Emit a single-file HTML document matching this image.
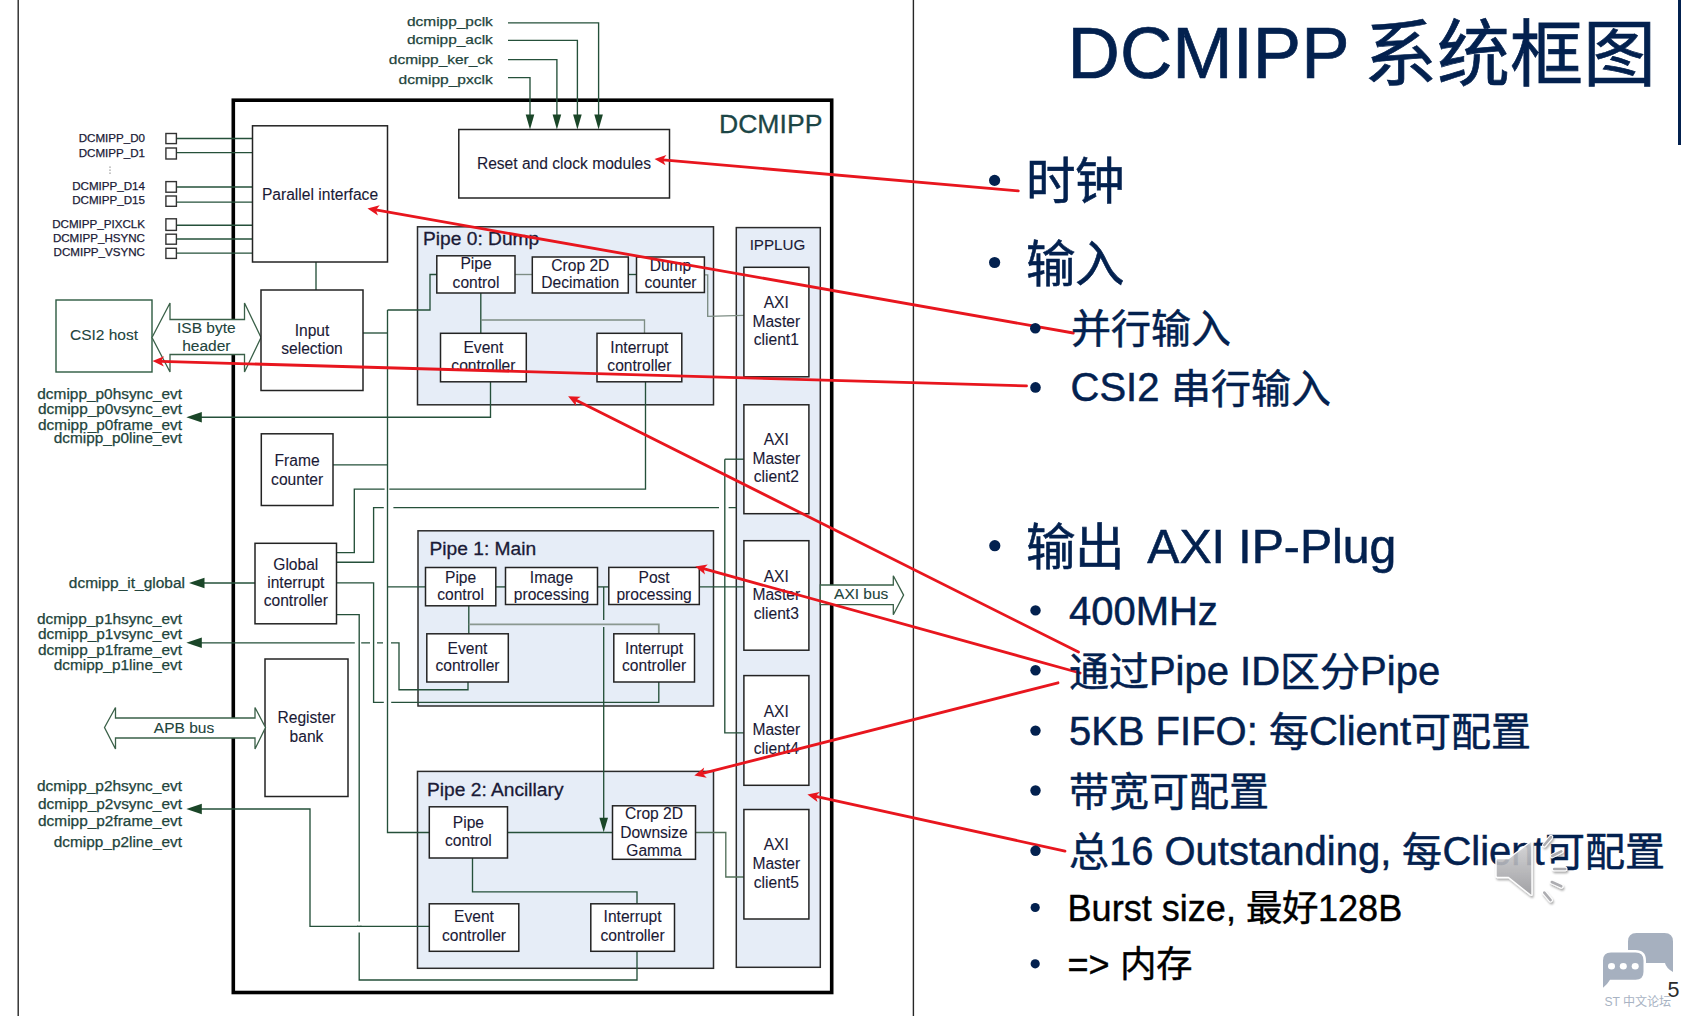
<!DOCTYPE html><html lang="zh-CN"><head><meta charset="utf-8"><title>DCMIPP</title><style>html,body{margin:0;padding:0;background:#fff;overflow:hidden;}svg{display:block;font-family:"Liberation Sans",sans-serif;}</style></head><body>
<svg width="1681" height="1016" viewBox="0 0 1681 1016">
<rect x="0" y="0" width="1681" height="1016" fill="#fff"/>
<polyline points="18.2,0 18.2,1016" fill="none" stroke="#262626" stroke-width="1.4"/>
<polyline points="913.4,0 913.4,1016" fill="none" stroke="#262626" stroke-width="1.4"/>
<rect x="1678" y="0" width="3" height="145" fill="#03214f"/>
<rect x="233.3" y="100.2" width="598.4" height="892.3" fill="none" stroke="#000" stroke-width="3.6"/>
<text x="822.4" y="132.9" font-size="26.6" text-anchor="end" fill="#1c4646" stroke="#1c4646" stroke-width="0.3">DCMIPP</text>
<rect x="417.5" y="226.8" width="296.0" height="178.0" fill="#e6edf7" stroke="#2b2b2b" stroke-width="1.5"/>
<rect x="418" y="530.8" width="295.5" height="175.2" fill="#e6edf7" stroke="#2b2b2b" stroke-width="1.5"/>
<rect x="417.5" y="771.4" width="296.0" height="196.9" fill="#e6edf7" stroke="#2b2b2b" stroke-width="1.5"/>
<rect x="736.3" y="227.6" width="84.0" height="739.7" fill="#e6edf7" stroke="#2b2b2b" stroke-width="1.5"/>
<text x="492.8" y="26.1" font-size="13.6" text-anchor="end" fill="#22443c" stroke="#22443c" stroke-width="0.25" textLength="85.8" lengthAdjust="spacingAndGlyphs">dcmipp_pclk</text>
<polyline points="508,22.9 598.6,22.9 598.6,115" fill="none" stroke="#25503a" stroke-width="1.35"/>
<polygon points="598.6,129.5 594.3,114.5 602.9,114.5" fill="#1a4628" stroke="none" stroke-width="1"/>
<text x="492.8" y="43.9" font-size="13.6" text-anchor="end" fill="#22443c" stroke="#22443c" stroke-width="0.25" textLength="85.8" lengthAdjust="spacingAndGlyphs">dcmipp_aclk</text>
<polyline points="508,40.4 577.4,40.4 577.4,115" fill="none" stroke="#25503a" stroke-width="1.35"/>
<polygon points="577.4,129.5 573.1,114.5 581.7,114.5" fill="#1a4628" stroke="none" stroke-width="1"/>
<text x="492.8" y="63.6" font-size="13.6" text-anchor="end" fill="#22443c" stroke="#22443c" stroke-width="0.25" textLength="104" lengthAdjust="spacingAndGlyphs">dcmipp_ker_ck</text>
<polyline points="508,59.6 556.9,59.6 556.9,115" fill="none" stroke="#25503a" stroke-width="1.35"/>
<polygon points="556.9,129.5 552.6,114.5 561.2,114.5" fill="#1a4628" stroke="none" stroke-width="1"/>
<text x="492.8" y="84" font-size="13.6" text-anchor="end" fill="#22443c" stroke="#22443c" stroke-width="0.25" textLength="94.2" lengthAdjust="spacingAndGlyphs">dcmipp_pxclk</text>
<polyline points="508,77.6 530,77.6 530,115" fill="none" stroke="#25503a" stroke-width="1.35"/>
<polygon points="530,129.5 525.7,114.5 534.3,114.5" fill="#1a4628" stroke="none" stroke-width="1"/>
<text x="145" y="141.8" font-size="11.6" text-anchor="end" fill="#1a1a36" stroke="#1a1a36" stroke-width="0.25">DCMIPP_D0</text>
<polyline points="176.4,138.5 252.5,138.5" fill="none" stroke="#25503a" stroke-width="1.35"/>
<rect x="165.9" y="133.5" width="10.5" height="10.1" fill="#fff" stroke="#333" stroke-width="1.4"/>
<text x="145" y="157" font-size="11.6" text-anchor="end" fill="#1a1a36" stroke="#1a1a36" stroke-width="0.25">DCMIPP_D1</text>
<polyline points="176.4,152.6 252.5,152.6" fill="none" stroke="#25503a" stroke-width="1.35"/>
<rect x="165.9" y="148" width="10.5" height="11" fill="#fff" stroke="#333" stroke-width="1.4"/>
<text x="145" y="189.7" font-size="11.6" text-anchor="end" fill="#1a1a36" stroke="#1a1a36" stroke-width="0.25">DCMIPP_D14</text>
<polyline points="176.4,187 252.5,187" fill="none" stroke="#25503a" stroke-width="1.35"/>
<rect x="165.9" y="181.6" width="10.5" height="10.6" fill="#fff" stroke="#333" stroke-width="1.4"/>
<text x="145" y="204.2" font-size="11.6" text-anchor="end" fill="#1a1a36" stroke="#1a1a36" stroke-width="0.25">DCMIPP_D15</text>
<polyline points="176.4,202.1 252.5,202.1" fill="none" stroke="#25503a" stroke-width="1.35"/>
<rect x="165.9" y="196" width="10.5" height="10.3" fill="#fff" stroke="#333" stroke-width="1.4"/>
<text x="145" y="228" font-size="11.6" text-anchor="end" fill="#1a1a36" stroke="#1a1a36" stroke-width="0.25">DCMIPP_PIXCLK</text>
<polyline points="176.4,225.2 252.5,225.2" fill="none" stroke="#25503a" stroke-width="1.35"/>
<rect x="165.9" y="218.8" width="10.5" height="11.6" fill="#fff" stroke="#333" stroke-width="1.4"/>
<text x="145" y="242.4" font-size="11.6" text-anchor="end" fill="#1a1a36" stroke="#1a1a36" stroke-width="0.25">DCMIPP_HSYNC</text>
<polyline points="176.4,239 252.5,239" fill="none" stroke="#25503a" stroke-width="1.35"/>
<rect x="165.9" y="234.2" width="10.5" height="10.0" fill="#fff" stroke="#333" stroke-width="1.4"/>
<text x="145" y="256.3" font-size="11.6" text-anchor="end" fill="#1a1a36" stroke="#1a1a36" stroke-width="0.25">DCMIPP_VSYNC</text>
<polyline points="176.4,253.1 252.5,253.1" fill="none" stroke="#25503a" stroke-width="1.35"/>
<rect x="165.9" y="248.3" width="10.5" height="10.1" fill="#fff" stroke="#333" stroke-width="1.4"/>
<rect x="109.5" y="166.5" width="1" height="1.3" fill="#777"/>
<rect x="109.5" y="169.5" width="1" height="1.3" fill="#777"/>
<rect x="109.5" y="172.5" width="1" height="1.3" fill="#777"/>
<polyline points="316,262 316,290" fill="none" stroke="#25503a" stroke-width="1.35"/>
<polyline points="363,333 387.5,333" fill="none" stroke="#25503a" stroke-width="1.35"/>
<polyline points="333,464.8 387.5,464.8" fill="none" stroke="#25503a" stroke-width="1.35"/>
<polyline points="336.5,552.6 354.3,552.6 354.3,489.1 645.5,489.1 645.5,381.8" fill="none" stroke="#25503a" stroke-width="1.35"/>
<polyline points="336.5,562.2 373.6,562.2 373.6,507.6 736.3,507.6" fill="none" stroke="#25503a" stroke-width="1.35"/>
<polyline points="336.5,582.9 373.6,582.9 373.6,702.4 658.8,702.4 658.8,682" fill="none" stroke="#25503a" stroke-width="1.35"/>
<polyline points="336.5,614.6 359.2,614.6 359.2,980 637,980 637,951.3" fill="none" stroke="#25503a" stroke-width="1.35"/>
<polyline points="204,583 255,583" fill="none" stroke="#25503a" stroke-width="1.35"/>
<polygon points="189,583 204.5,577.8 204.5,588.2" fill="#1a4628" stroke="none" stroke-width="1"/>
<polyline points="201,417.2 490.5,417.2 490.5,381.8" fill="none" stroke="#25503a" stroke-width="1.35"/>
<polygon points="186.3,417.2 201.8,412.0 201.8,422.4" fill="#1a4628" stroke="none" stroke-width="1"/>
<polyline points="201,642.8 399,642.8 399,689.7 468,689.7 468,682" fill="none" stroke="#25503a" stroke-width="1.35"/>
<polygon points="186.3,642.8 201.8,637.6 201.8,648.0" fill="#1a4628" stroke="none" stroke-width="1"/>
<polyline points="201,809 310,809 310,926.3 429.3,926.3" fill="none" stroke="#25503a" stroke-width="1.35"/>
<polygon points="186.3,809 201.8,803.8 201.8,814.2" fill="#1a4628" stroke="none" stroke-width="1"/>
<polyline points="387.5,310 387.5,832.5 429.3,832.5" fill="none" stroke="#25503a" stroke-width="1.35"/>
<polyline points="387.5,310 430,310 430,274.5 436.8,274.5" fill="none" stroke="#25503a" stroke-width="1.35"/>
<polyline points="387.5,586.9 425.5,586.9" fill="none" stroke="#25503a" stroke-width="1.35"/>
<polyline points="515,274.5 532.3,274.5" fill="none" stroke="#7d8d84" stroke-width="1.35"/>
<polyline points="628.3,274.5 636.5,274.5" fill="none" stroke="#25503a" stroke-width="1.35"/>
<polyline points="704.5,274.8 707.7,274.8 707.7,316.3 743.9,315.4" fill="none" stroke="#7d8d84" stroke-width="1.35"/>
<polyline points="480.8,293 480.8,333.3" fill="none" stroke="#25503a" stroke-width="1.35"/>
<polyline points="480.8,320 644.5,320 644.5,333.3" fill="none" stroke="#7d8d84" stroke-width="1.35"/>
<polyline points="495.8,586.9 505.5,586.9" fill="none" stroke="#25503a" stroke-width="1.35"/>
<polyline points="597.5,586.9 608.8,586.9" fill="none" stroke="#25503a" stroke-width="1.35"/>
<polyline points="699.5,586.9 743.9,586.9" fill="none" stroke="#25503a" stroke-width="1.35"/>
<polyline points="468.8,605.8 468.8,633.8" fill="none" stroke="#25503a" stroke-width="1.35"/>
<polyline points="468.8,624.3 658.8,624.3 658.8,633.8" fill="none" stroke="#8a9890" stroke-width="1.8"/>
<polyline points="603.7,586.9 603.7,620" fill="none" stroke="#25503a" stroke-width="1.35"/>
<polyline points="603.7,627.1 603.7,818" fill="none" stroke="#25503a" stroke-width="1.35"/>
<polygon points="603.7,832.3 599.4,817.8 608.0,817.8" fill="#1a4628" stroke="none" stroke-width="1"/>
<polyline points="507.5,832.5 612.5,832.5" fill="none" stroke="#25503a" stroke-width="1.35"/>
<polyline points="695.5,832.5 725.8,832.5 725.8,877 743.9,877" fill="none" stroke="#52705a" stroke-width="1.35"/>
<polyline points="472.5,858 472.5,891.8 637,891.8 637,903.8" fill="none" stroke="#25503a" stroke-width="1.35"/>
<polyline points="724.8,459.2 724.8,732.8 743.9,732.8" fill="none" stroke="#25503a" stroke-width="1.35"/>
<polyline points="724.8,459.2 743.9,459.2" fill="none" stroke="#25503a" stroke-width="1.35"/>
<rect x="384.6" y="486" width="4.7" height="6" fill="#fff"/>
<rect x="383.8" y="505" width="9.6" height="5" fill="#fff"/>
<rect x="719" y="505" width="9.6" height="5" fill="#fff"/>
<rect x="383.8" y="700" width="7.4" height="5" fill="#fff"/>
<rect x="354.8" y="640" width="6.4" height="6" fill="#fff"/>
<rect x="370" y="640" width="7" height="6" fill="#fff"/>
<rect x="383" y="640" width="8" height="6" fill="#fff"/>
<rect x="357.9" y="921.5" width="2.6" height="11.0" fill="#fff"/>
<line x1="387.5" y1="486" x2="387.5" y2="492" stroke="#25503a" stroke-width="1.35"/>
<line x1="387.5" y1="505" x2="387.5" y2="510" stroke="#25503a" stroke-width="1.35"/>
<line x1="724.8" y1="505" x2="724.8" y2="510" stroke="#25503a" stroke-width="1.35"/>
<line x1="387.5" y1="700" x2="387.5" y2="705" stroke="#25503a" stroke-width="1.35"/>
<line x1="359.2" y1="640" x2="359.2" y2="646" stroke="#25503a" stroke-width="1.35"/>
<line x1="373.6" y1="640" x2="373.6" y2="646" stroke="#25503a" stroke-width="1.35"/>
<line x1="387.5" y1="640" x2="387.5" y2="646" stroke="#25503a" stroke-width="1.35"/>
<line x1="357" y1="926.3" x2="361.5" y2="926.3" stroke="#25503a" stroke-width="1.35"/>
<rect x="252.5" y="125.8" width="135.0" height="136.2" fill="#fff" stroke="#232323" stroke-width="1.5"/>
<rect x="458.8" y="129.5" width="210.7" height="68.5" fill="#fff" stroke="#232323" stroke-width="1.5"/>
<rect x="56" y="300" width="96" height="72" fill="#fff" stroke="#2d5a40" stroke-width="1.4"/>
<polygon points="152,337.5 170,303 170,319.5 244.5,319.5 244.5,303 261,337.5 244.5,372 244.5,354.5 170,354.5 170,372" fill="#fff" stroke="#3a6048" stroke-width="1.3"/>
<rect x="261" y="290" width="102" height="100.5" fill="#fff" stroke="#232323" stroke-width="1.5"/>
<rect x="261.3" y="433.8" width="71.7" height="71.7" fill="#fff" stroke="#232323" stroke-width="1.5"/>
<rect x="255" y="543.3" width="81.5" height="80.5" fill="#fff" stroke="#232323" stroke-width="1.5"/>
<rect x="265" y="659" width="83" height="137.5" fill="#fff" stroke="#232323" stroke-width="1.5"/>
<polygon points="104.5,727.5 115.5,707.5 115.5,718 255,718 255,707.5 265.5,727.5 255,749 255,738 115.5,738 115.5,749" fill="#fff" stroke="#3a6048" stroke-width="1.3"/>
<rect x="436.8" y="255.8" width="78.2" height="37.2" fill="#fff" stroke="#232323" stroke-width="1.5"/>
<rect x="532.3" y="257" width="96.0" height="36" fill="#fff" stroke="#232323" stroke-width="1.5"/>
<rect x="636.5" y="257" width="67.9" height="35.5" fill="#fff" stroke="#232323" stroke-width="1.5"/>
<rect x="440.5" y="333.3" width="85.8" height="48.5" fill="#fff" stroke="#232323" stroke-width="1.5"/>
<rect x="597" y="333.3" width="84.8" height="48.5" fill="#fff" stroke="#232323" stroke-width="1.5"/>
<rect x="425.5" y="567.5" width="70.3" height="38.3" fill="#fff" stroke="#232323" stroke-width="1.5"/>
<rect x="505.5" y="567.5" width="92.0" height="37.0" fill="#fff" stroke="#232323" stroke-width="1.5"/>
<rect x="608.8" y="567.4" width="90.5" height="37.1" fill="#fff" stroke="#232323" stroke-width="1.5"/>
<rect x="426.8" y="633.8" width="81.5" height="48.2" fill="#fff" stroke="#232323" stroke-width="1.5"/>
<rect x="613.8" y="633.8" width="80.7" height="48.2" fill="#fff" stroke="#232323" stroke-width="1.5"/>
<rect x="429.3" y="806.8" width="78.2" height="51.2" fill="#fff" stroke="#232323" stroke-width="1.5"/>
<rect x="612.5" y="805.8" width="83.0" height="53.5" fill="#fff" stroke="#232323" stroke-width="1.5"/>
<rect x="429.3" y="903.8" width="89.5" height="47.5" fill="#fff" stroke="#232323" stroke-width="1.5"/>
<rect x="590.8" y="903.8" width="83.7" height="47.5" fill="#fff" stroke="#232323" stroke-width="1.5"/>
<rect x="743.9" y="267.3" width="65.0" height="109.5" fill="#fff" stroke="#232323" stroke-width="1.5"/>
<rect x="743.9" y="404.8" width="65.0" height="108.9" fill="#fff" stroke="#232323" stroke-width="1.5"/>
<rect x="743.9" y="540.7" width="65.0" height="109.5" fill="#fff" stroke="#232323" stroke-width="1.5"/>
<rect x="743.9" y="675.6" width="65.0" height="109.7" fill="#fff" stroke="#232323" stroke-width="1.5"/>
<rect x="743.9" y="809.5" width="65.0" height="109.5" fill="#fff" stroke="#232323" stroke-width="1.5"/>
<polygon points="820.3,585 893.3,585 893.3,575.8 903.6,595.1 893.3,614.8 893.3,604.7 820.3,604.7" fill="#fff" stroke="#3a6048" stroke-width="1.3"/>
<text x="320" y="199.5" font-size="15.6" text-anchor="middle" fill="#1a1a36" stroke="#1a1a36" stroke-width="0.1">Parallel interface</text>
<text x="564" y="168.7" font-size="15.6" text-anchor="middle" fill="#1a1a36" stroke="#1a1a36" stroke-width="0.1">Reset and clock modules</text>
<text x="104" y="340" font-size="15.5" text-anchor="middle" fill="#22443c" stroke="#22443c" stroke-width="0.1">CSI2 host</text>
<text x="206.3" y="332.5" font-size="15.5" text-anchor="middle" fill="#22443c" stroke="#22443c" stroke-width="0.1">ISB byte</text>
<text x="206.3" y="351.3" font-size="15.5" text-anchor="middle" fill="#22443c" stroke="#22443c" stroke-width="0.1">header</text>
<text x="312" y="336.3" font-size="15.6" text-anchor="middle" fill="#1a1a36" stroke="#1a1a36" stroke-width="0.1">Input</text>
<text x="312" y="353.8" font-size="15.6" text-anchor="middle" fill="#1a1a36" stroke="#1a1a36" stroke-width="0.1">selection</text>
<text x="297.1" y="465.5" font-size="15.6" text-anchor="middle" fill="#1a1a36" stroke="#1a1a36" stroke-width="0.1">Frame</text>
<text x="297.1" y="484.5" font-size="15.6" text-anchor="middle" fill="#1a1a36" stroke="#1a1a36" stroke-width="0.1">counter</text>
<text x="295.8" y="569.5" font-size="15.6" text-anchor="middle" fill="#1a1a36" stroke="#1a1a36" stroke-width="0.1">Global</text>
<text x="295.8" y="588" font-size="15.6" text-anchor="middle" fill="#1a1a36" stroke="#1a1a36" stroke-width="0.1">interrupt</text>
<text x="295.8" y="605.5" font-size="15.6" text-anchor="middle" fill="#1a1a36" stroke="#1a1a36" stroke-width="0.1">controller</text>
<text x="185" y="588" font-size="14" text-anchor="end" fill="#22443c" stroke="#22443c" stroke-width="0.25" textLength="116.2" lengthAdjust="spacingAndGlyphs">dcmipp_it_global</text>
<text x="182" y="398.7" font-size="14" text-anchor="end" fill="#22443c" stroke="#22443c" stroke-width="0.25" textLength="144.7" lengthAdjust="spacingAndGlyphs">dcmipp_p0hsync_evt</text>
<text x="182" y="414" font-size="14" text-anchor="end" fill="#22443c" stroke="#22443c" stroke-width="0.25" textLength="144" lengthAdjust="spacingAndGlyphs">dcmipp_p0vsync_evt</text>
<text x="182" y="430.3" font-size="14" text-anchor="end" fill="#22443c" stroke="#22443c" stroke-width="0.25" textLength="144" lengthAdjust="spacingAndGlyphs">dcmipp_p0frame_evt</text>
<text x="182" y="443.2" font-size="14" text-anchor="end" fill="#22443c" stroke="#22443c" stroke-width="0.25" textLength="128.2" lengthAdjust="spacingAndGlyphs">dcmipp_p0line_evt</text>
<text x="182" y="624.3" font-size="14" text-anchor="end" fill="#22443c" stroke="#22443c" stroke-width="0.25" textLength="145" lengthAdjust="spacingAndGlyphs">dcmipp_p1hsync_evt</text>
<text x="182" y="638.8" font-size="14" text-anchor="end" fill="#22443c" stroke="#22443c" stroke-width="0.25" textLength="144" lengthAdjust="spacingAndGlyphs">dcmipp_p1vsync_evt</text>
<text x="182" y="655" font-size="14" text-anchor="end" fill="#22443c" stroke="#22443c" stroke-width="0.25" textLength="144" lengthAdjust="spacingAndGlyphs">dcmipp_p1frame_evt</text>
<text x="182" y="669.5" font-size="14" text-anchor="end" fill="#22443c" stroke="#22443c" stroke-width="0.25" textLength="128.2" lengthAdjust="spacingAndGlyphs">dcmipp_p1line_evt</text>
<text x="182" y="790.5" font-size="14" text-anchor="end" fill="#22443c" stroke="#22443c" stroke-width="0.25" textLength="145" lengthAdjust="spacingAndGlyphs">dcmipp_p2hsync_evt</text>
<text x="182" y="808.8" font-size="14" text-anchor="end" fill="#22443c" stroke="#22443c" stroke-width="0.25" textLength="144" lengthAdjust="spacingAndGlyphs">dcmipp_p2vsync_evt</text>
<text x="182" y="826.3" font-size="14" text-anchor="end" fill="#22443c" stroke="#22443c" stroke-width="0.25" textLength="144" lengthAdjust="spacingAndGlyphs">dcmipp_p2frame_evt</text>
<text x="182" y="846.8" font-size="14" text-anchor="end" fill="#22443c" stroke="#22443c" stroke-width="0.25" textLength="128.2" lengthAdjust="spacingAndGlyphs">dcmipp_p2line_evt</text>
<text x="306.5" y="723.3" font-size="15.6" text-anchor="middle" fill="#1a1a36" stroke="#1a1a36" stroke-width="0.1">Register</text>
<text x="306.5" y="742" font-size="15.6" text-anchor="middle" fill="#1a1a36" stroke="#1a1a36" stroke-width="0.1">bank</text>
<text x="184" y="732.5" font-size="15.5" text-anchor="middle" fill="#22443c" stroke="#22443c" stroke-width="0.1">APB bus</text>
<text x="423" y="245" font-size="19.2" text-anchor="start" fill="#1a1a36" stroke="#1a1a36" stroke-width="0.3">Pipe 0: Dump</text>
<text x="476" y="269.3" font-size="15.6" text-anchor="middle" fill="#1a1a36" stroke="#1a1a36" stroke-width="0.1">Pipe</text>
<text x="476" y="288" font-size="15.6" text-anchor="middle" fill="#1a1a36" stroke="#1a1a36" stroke-width="0.1">control</text>
<text x="580.3" y="270.8" font-size="15.6" text-anchor="middle" fill="#1a1a36" stroke="#1a1a36" stroke-width="0.1">Crop 2D</text>
<text x="580.3" y="288" font-size="15.6" text-anchor="middle" fill="#1a1a36" stroke="#1a1a36" stroke-width="0.1">Decimation</text>
<text x="670.5" y="270.8" font-size="15.6" text-anchor="middle" fill="#1a1a36" stroke="#1a1a36" stroke-width="0.1">Dump</text>
<text x="670.5" y="288" font-size="15.6" text-anchor="middle" fill="#1a1a36" stroke="#1a1a36" stroke-width="0.1">counter</text>
<text x="483.4" y="353.3" font-size="15.6" text-anchor="middle" fill="#1a1a36" stroke="#1a1a36" stroke-width="0.1">Event</text>
<text x="483.4" y="371.3" font-size="15.6" text-anchor="middle" fill="#1a1a36" stroke="#1a1a36" stroke-width="0.1">controller</text>
<text x="639.4" y="353.3" font-size="15.6" text-anchor="middle" fill="#1a1a36" stroke="#1a1a36" stroke-width="0.1">Interrupt</text>
<text x="639.4" y="371.3" font-size="15.6" text-anchor="middle" fill="#1a1a36" stroke="#1a1a36" stroke-width="0.1">controller</text>
<text x="429.5" y="555" font-size="19.2" text-anchor="start" fill="#1a1a36" stroke="#1a1a36" stroke-width="0.3">Pipe 1: Main</text>
<text x="460.6" y="582.5" font-size="15.6" text-anchor="middle" fill="#1a1a36" stroke="#1a1a36" stroke-width="0.1">Pipe</text>
<text x="460.6" y="600" font-size="15.6" text-anchor="middle" fill="#1a1a36" stroke="#1a1a36" stroke-width="0.1">control</text>
<text x="551.5" y="582.5" font-size="15.6" text-anchor="middle" fill="#1a1a36" stroke="#1a1a36" stroke-width="0.1">Image</text>
<text x="551.5" y="600" font-size="15.6" text-anchor="middle" fill="#1a1a36" stroke="#1a1a36" stroke-width="0.1">processing</text>
<text x="654.1" y="582.5" font-size="15.6" text-anchor="middle" fill="#1a1a36" stroke="#1a1a36" stroke-width="0.1">Post</text>
<text x="654.1" y="600" font-size="15.6" text-anchor="middle" fill="#1a1a36" stroke="#1a1a36" stroke-width="0.1">processing</text>
<text x="467.5" y="653.8" font-size="15.6" text-anchor="middle" fill="#1a1a36" stroke="#1a1a36" stroke-width="0.1">Event</text>
<text x="467.5" y="671.3" font-size="15.6" text-anchor="middle" fill="#1a1a36" stroke="#1a1a36" stroke-width="0.1">controller</text>
<text x="654.1" y="653.8" font-size="15.6" text-anchor="middle" fill="#1a1a36" stroke="#1a1a36" stroke-width="0.1">Interrupt</text>
<text x="654.1" y="671.3" font-size="15.6" text-anchor="middle" fill="#1a1a36" stroke="#1a1a36" stroke-width="0.1">controller</text>
<text x="427" y="796.3" font-size="19.2" text-anchor="start" fill="#1a1a36" stroke="#1a1a36" stroke-width="0.3">Pipe 2: Ancillary</text>
<text x="468.4" y="828" font-size="15.6" text-anchor="middle" fill="#1a1a36" stroke="#1a1a36" stroke-width="0.1">Pipe</text>
<text x="468.4" y="845.5" font-size="15.6" text-anchor="middle" fill="#1a1a36" stroke="#1a1a36" stroke-width="0.1">control</text>
<text x="654" y="819.3" font-size="15.6" text-anchor="middle" fill="#1a1a36" stroke="#1a1a36" stroke-width="0.1">Crop 2D</text>
<text x="654" y="838" font-size="15.6" text-anchor="middle" fill="#1a1a36" stroke="#1a1a36" stroke-width="0.1">Downsize</text>
<text x="654" y="855.5" font-size="15.6" text-anchor="middle" fill="#1a1a36" stroke="#1a1a36" stroke-width="0.1">Gamma</text>
<text x="474" y="922" font-size="15.6" text-anchor="middle" fill="#1a1a36" stroke="#1a1a36" stroke-width="0.1">Event</text>
<text x="474" y="940.8" font-size="15.6" text-anchor="middle" fill="#1a1a36" stroke="#1a1a36" stroke-width="0.1">controller</text>
<text x="632.6" y="922" font-size="15.6" text-anchor="middle" fill="#1a1a36" stroke="#1a1a36" stroke-width="0.1">Interrupt</text>
<text x="632.6" y="940.8" font-size="15.6" text-anchor="middle" fill="#1a1a36" stroke="#1a1a36" stroke-width="0.1">controller</text>
<text x="777.5" y="250" font-size="15.2" text-anchor="middle" fill="#1a1a36" stroke="#1a1a36" stroke-width="0.1">IPPLUG</text>
<text x="776.3" y="308.1" font-size="15.6" text-anchor="middle" fill="#1a1a36" stroke="#1a1a36" stroke-width="0.1">AXI</text>
<text x="776.3" y="326.8" font-size="15.6" text-anchor="middle" fill="#1a1a36" stroke="#1a1a36" stroke-width="0.1">Master</text>
<text x="776.3" y="345.2" font-size="15.6" text-anchor="middle" fill="#1a1a36" stroke="#1a1a36" stroke-width="0.1">client1</text>
<text x="776.3" y="445.2" font-size="15.6" text-anchor="middle" fill="#1a1a36" stroke="#1a1a36" stroke-width="0.1">AXI</text>
<text x="776.3" y="463.9" font-size="15.6" text-anchor="middle" fill="#1a1a36" stroke="#1a1a36" stroke-width="0.1">Master</text>
<text x="776.3" y="482.4" font-size="15.6" text-anchor="middle" fill="#1a1a36" stroke="#1a1a36" stroke-width="0.1">client2</text>
<text x="776.3" y="581.5" font-size="15.6" text-anchor="middle" fill="#1a1a36" stroke="#1a1a36" stroke-width="0.1">AXI</text>
<text x="776.3" y="600.2" font-size="15.6" text-anchor="middle" fill="#1a1a36" stroke="#1a1a36" stroke-width="0.1">Master</text>
<text x="776.3" y="618.7" font-size="15.6" text-anchor="middle" fill="#1a1a36" stroke="#1a1a36" stroke-width="0.1">client3</text>
<text x="776.3" y="716.5" font-size="15.6" text-anchor="middle" fill="#1a1a36" stroke="#1a1a36" stroke-width="0.1">AXI</text>
<text x="776.3" y="735.2" font-size="15.6" text-anchor="middle" fill="#1a1a36" stroke="#1a1a36" stroke-width="0.1">Master</text>
<text x="776.3" y="753.7" font-size="15.6" text-anchor="middle" fill="#1a1a36" stroke="#1a1a36" stroke-width="0.1">client4</text>
<text x="776.3" y="850.2" font-size="15.6" text-anchor="middle" fill="#1a1a36" stroke="#1a1a36" stroke-width="0.1">AXI</text>
<text x="776.3" y="869.0" font-size="15.6" text-anchor="middle" fill="#1a1a36" stroke="#1a1a36" stroke-width="0.1">Master</text>
<text x="776.3" y="887.5" font-size="15.6" text-anchor="middle" fill="#1a1a36" stroke="#1a1a36" stroke-width="0.1">client5</text>
<text x="861.2" y="599.2" font-size="15.5" text-anchor="middle" fill="#22443c" stroke="#22443c" stroke-width="0.1">AXI bus</text>
<line x1="1018.3" y1="190.9" x2="662.97" y2="159.84" stroke="#e8161e" stroke-width="2.8" stroke-linecap="round"/>
<polygon points="654.5,159.1 665.5,165.28 662.97,159.84 666.41,154.92" fill="#e8161e" stroke="none" stroke-width="1"/>
<line x1="1073.3" y1="333" x2="375.87" y2="209.88" stroke="#e8161e" stroke-width="2.8" stroke-linecap="round"/>
<polygon points="367.5,208.4 377.92,215.52 375.87,209.88 379.73,205.28" fill="#e8161e" stroke="none" stroke-width="1"/>
<line x1="1026.5" y1="385.9" x2="161.0" y2="361.34" stroke="#e8161e" stroke-width="2.8" stroke-linecap="round"/>
<polygon points="152.5,361.1 163.85,366.62 161.0,361.34 164.14,356.23" fill="#e8161e" stroke="none" stroke-width="1"/>
<line x1="1078.5" y1="652.1" x2="575.7" y2="400.01" stroke="#e8161e" stroke-width="2.8" stroke-linecap="round"/>
<polygon points="568.1,396.2 576.05,406.0 575.7,400.01 580.71,396.71" fill="#e8161e" stroke="none" stroke-width="1"/>
<line x1="1080.2" y1="673" x2="703.49" y2="568.67" stroke="#e8161e" stroke-width="2.8" stroke-linecap="round"/>
<polygon points="695.3,566.4 704.99,574.48 703.49,568.67 707.77,564.46" fill="#e8161e" stroke="none" stroke-width="1"/>
<line x1="1058" y1="682.8" x2="702.54" y2="773.4" stroke="#e8161e" stroke-width="2.8" stroke-linecap="round"/>
<polygon points="694.3,775.5 706.73,777.7 702.54,773.4 704.16,767.62" fill="#e8161e" stroke="none" stroke-width="1"/>
<line x1="1065" y1="851.1" x2="815.7" y2="796.32" stroke="#e8161e" stroke-width="2.8" stroke-linecap="round"/>
<polygon points="807.4,794.5 817.52,802.05 815.7,796.32 819.75,791.89" fill="#e8161e" stroke="none" stroke-width="1"/>
<text x="1067.6" y="78" fill="#03214f" stroke="#03214f" stroke-width="0.7"><tspan font-size="72.5">DCMIPP </tspan><tspan font-size="73" dx="-4.5" dy="1.5">系统框图</tspan></text>
<circle cx="994.6" cy="180.4" r="5.6" fill="#03214f"/>
<text x="1025.5" y="198.9" fill="#03214f" stroke="#03214f" stroke-width="0.6"><tspan font-size="49.5">时钟</tspan></text>
<circle cx="994.6" cy="262.5" r="5.6" fill="#03214f"/>
<text x="1025.5" y="282" fill="#03214f" stroke="#03214f" stroke-width="0.6"><tspan font-size="49.5">输入</tspan></text>
<circle cx="1035.3" cy="328.2" r="5.3" fill="#03214f"/>
<text x="1070.5" y="342.8" fill="#03214f" stroke="#03214f" stroke-width="0.5"><tspan font-size="40.0">并行输入</tspan></text>
<circle cx="1035.5" cy="387.4" r="5.3" fill="#03214f"/>
<text x="1070.5" y="401.3" fill="#03214f" stroke="#03214f" stroke-width="0.5"><tspan font-size="40.0">CSI2 </tspan><tspan font-size="40.0" dy="1.5">串行输入</tspan></text>
<circle cx="994.8" cy="545.7" r="5.6" fill="#03214f"/>
<text x="1025.5" y="562.8" fill="#03214f" stroke="#03214f" stroke-width="0.6" xml:space="preserve"><tspan font-size="49.5" dy="2">输出</tspan><tspan font-size="48.2" dy="-2" dx="-3">  AXI IP-Plug</tspan></text>
<circle cx="1035.5" cy="610.4" r="5.2" fill="#03214f"/>
<text x="1068.9" y="624.9" fill="#03214f" stroke="#03214f" stroke-width="0.5" xml:space="preserve"><tspan font-size="40.0">400MHz</tspan></text>
<circle cx="1035.5" cy="670.3" r="5.2" fill="#03214f"/>
<text x="1068.9" y="684.8" fill="#03214f" stroke="#03214f" stroke-width="0.5" xml:space="preserve"><tspan font-size="40.0" dy="1.0">通过</tspan><tspan font-size="40.0" dy="-1.0">Pipe ID</tspan><tspan font-size="40.0" dy="1.0">区分</tspan><tspan font-size="40.0" dy="-1.0">Pipe</tspan></text>
<circle cx="1035.5" cy="730.6" r="5.2" fill="#03214f"/>
<text x="1068.9" y="745.1" fill="#03214f" stroke="#03214f" stroke-width="0.5" xml:space="preserve"><tspan font-size="40.0">5KB FIFO: </tspan><tspan font-size="40.0" dy="1.0">每</tspan><tspan font-size="40.0" dy="-1.0">Client</tspan><tspan font-size="40.0" dy="1.0">可配置</tspan></text>
<circle cx="1035.5" cy="790.5" r="5.2" fill="#03214f"/>
<text x="1068.9" y="805.0" fill="#03214f" stroke="#03214f" stroke-width="0.5" xml:space="preserve"><tspan font-size="40.0" dy="1.0">带宽可配置</tspan></text>
<circle cx="1035.5" cy="850.7" r="5.2" fill="#03214f"/>
<text x="1068.9" y="865.2" fill="#03214f" stroke="#03214f" stroke-width="0.5" xml:space="preserve"><tspan font-size="40.0" dy="1.0">总</tspan><tspan font-size="40.0" dy="-1.0">16 Outstanding, </tspan><tspan font-size="40.0" dy="1.0">每</tspan><tspan font-size="40.0" dy="-1.0">Client</tspan><tspan font-size="40.0" dy="1.0">可配置</tspan></text>
<circle cx="1035.2" cy="907.5" r="4.6" fill="#03214f"/>
<text x="1067.5" y="921.0" fill="#000" stroke="#000" stroke-width="0.4" xml:space="preserve"><tspan font-size="36.1">Burst size, </tspan><tspan font-size="36.5">最好</tspan><tspan font-size="36.1">128B</tspan></text>
<circle cx="1035.2" cy="963.8" r="4.6" fill="#03214f"/>
<text x="1067.5" y="977.3" fill="#000" stroke="#000" stroke-width="0.4" xml:space="preserve"><tspan font-size="36.1">=&gt; </tspan><tspan font-size="36.5">内存</tspan></text>
<defs><linearGradient id="spk" x1="0" y1="0" x2="0" y2="1"><stop offset="0" stop-color="#d6d6d8"/><stop offset="1" stop-color="#9a9a9e"/></linearGradient><filter id="sh" x="-30%" y="-30%" width="170%" height="170%"><feGaussianBlur in="SourceAlpha" stdDeviation="1.3"/><feOffset dx="1.2" dy="1.8"/><feComponentTransfer><feFuncA type="linear" slope="0.35"/></feComponentTransfer><feMerge><feMergeNode/><feMergeNode in="SourceGraphic"/></feMerge></filter></defs>
<g filter="url(#sh)">
<path d="M1497.5,858.5 L1508.5,858.5 L1530.5,841.8 Q1532,841 1532,843 L1532,894 Q1532,896 1530.5,895 L1508.5,877.5 L1497.5,877.5 Q1496,877.5 1496,876 L1496,860 Q1496,858.5 1497.5,858.5 Z" fill="url(#spk)" fill-opacity="0.86" stroke="#fff" stroke-width="1.4" stroke-linejoin="round"/>
<line x1="1544.3" y1="845" x2="1551" y2="837.1" stroke="#fff" stroke-width="4.6" stroke-linecap="round"/>
<line x1="1544.3" y1="845" x2="1551" y2="837.1" stroke="#a4a4a8" stroke-opacity="0.9" stroke-width="2.6" stroke-linecap="round"/>
<line x1="1552.2" y1="856" x2="1561.3" y2="851.3" stroke="#fff" stroke-width="4.6" stroke-linecap="round"/>
<line x1="1552.2" y1="856" x2="1561.3" y2="851.3" stroke="#a4a4a8" stroke-opacity="0.9" stroke-width="2.6" stroke-linecap="round"/>
<line x1="1554.2" y1="869" x2="1565.2" y2="869" stroke="#fff" stroke-width="4.6" stroke-linecap="round"/>
<line x1="1554.2" y1="869" x2="1565.2" y2="869" stroke="#a4a4a8" stroke-opacity="0.9" stroke-width="2.6" stroke-linecap="round"/>
<line x1="1551.8" y1="882" x2="1561.3" y2="886.3" stroke="#fff" stroke-width="4.6" stroke-linecap="round"/>
<line x1="1551.8" y1="882" x2="1561.3" y2="886.3" stroke="#a4a4a8" stroke-opacity="0.9" stroke-width="2.6" stroke-linecap="round"/>
<line x1="1544.3" y1="892.6" x2="1550.6" y2="900.1" stroke="#fff" stroke-width="4.6" stroke-linecap="round"/>
<line x1="1544.3" y1="892.6" x2="1550.6" y2="900.1" stroke="#a4a4a8" stroke-opacity="0.9" stroke-width="2.6" stroke-linecap="round"/>
</g>
<path d="M1636.5,933 L1664.5,933 Q1673,933 1673,941.5 L1673,972 Q1666,968 1665,963 L1636.5,963 Q1628,963 1628,954.5 L1628,941.5 Q1628,933 1636.5,933 Z" fill="#a6b0bf"/>
<path d="M1611,952.6 L1635.5,952.6 Q1643.5,952.6 1643.5,960.6 L1643.5,971.8 Q1643.5,979.8 1635.5,979.8 L1610,979.8 Q1607,985 1603,987.8 L1603,960.6 Q1603,952.6 1611,952.6 Z" fill="#a6b0bf" stroke="#fff" stroke-width="5" paint-order="stroke"/>
<ellipse cx="1611.5" cy="966.2" rx="3.5" ry="3.2" fill="#fff"/>
<ellipse cx="1623.3" cy="966.2" rx="3.5" ry="3.2" fill="#fff"/>
<ellipse cx="1635.2" cy="966.2" rx="3.5" ry="3.2" fill="#fff"/>
<text x="1604.5" y="1006" font-size="12" fill="#a8b3c3" textLength="67" lengthAdjust="spacingAndGlyphs" xml:space="preserve">ST 中文论坛</text>
<text x="1667.6" y="997" font-size="21.5" fill="#2b2b2b">5</text>
</svg></body></html>
